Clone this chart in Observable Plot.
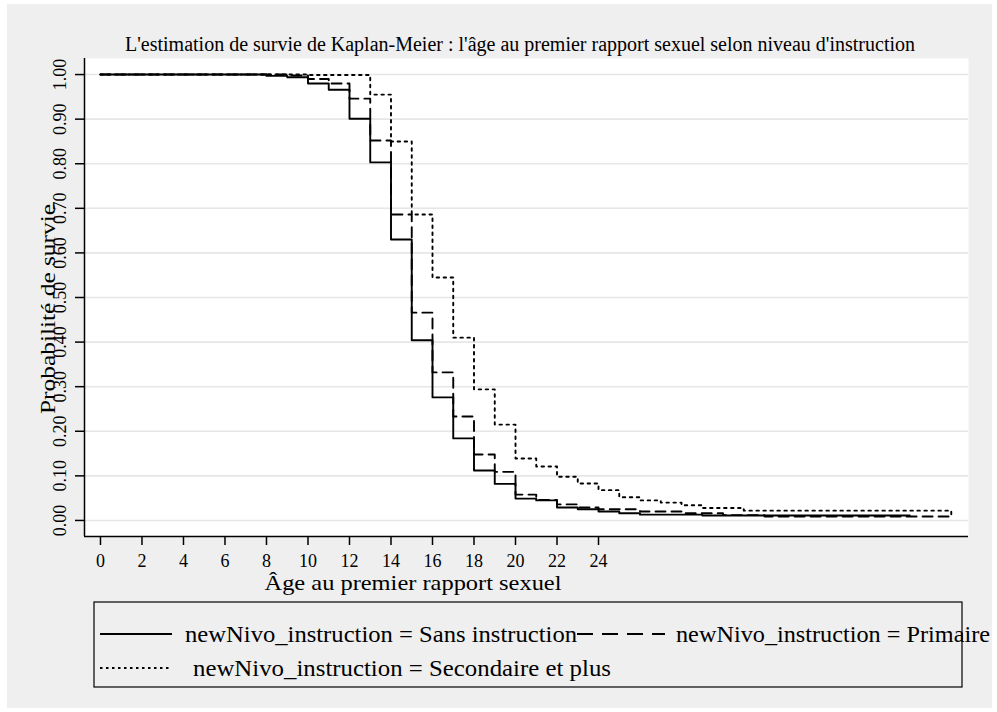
<!DOCTYPE html>
<html>
<head>
<meta charset="utf-8">
<script src="https://cdn.jsdelivr.net/npm/d3@7"></script>
<script src="https://cdn.jsdelivr.net/npm/@observablehq/plot@0.6"></script>
<style>
  body { margin: 0; background: #ffffff; }
  #root { position: relative; width: 997px; height: 712px; background: #ffffff; overflow: hidden; }
  #bg { position: absolute; left: 7px; top: 4px; width: 985px; height: 704px; background: #efefef; }
  #chart { position: absolute; left: 0; top: 0; }
  #overlay { position: absolute; left: 0; top: 0; }
  text { font-family: "Liberation Serif", "Times New Roman", serif; }
</style>
</head>
<body>
<div id="root">
  <div id="bg"></div>
  <div id="chart"></div>
  <svg id="overlay" width="997" height="712"></svg>
</div>
<script>
// ---- Data ----
const titleText = "L'estimation de survie de Kaplan-Meier : l'âge au premier rapport sexuel selon niveau d'instruction";
const xLabel = "Âge au premier rapport sexuel";
const yLabel = "Probabilité de survie";
const groupNames = [
  "newNivo_instruction = Sans instruction",
  "newNivo_instruction = Primaire",
  "newNivo_instruction = Secondaire et plus"
];

const sansAges   = [0, 8, 9, 10, 11, 12, 13, 14, 15, 16, 17, 18, 19, 20, 21, 22, 23, 24, 25, 26, 29, 39];
const sansSurv   = [1.000, 0.997, 0.994, 0.980, 0.966, 0.901, 0.803, 0.630, 0.404, 0.276, 0.184, 0.112, 0.082, 0.049, 0.045, 0.029, 0.025, 0.020, 0.016, 0.013, 0.011, 0.011];

const primAges   = [0, 9, 10, 11, 12, 13, 14, 15, 16, 17, 18, 19, 20, 21, 22, 23, 24, 26, 28, 30, 32, 41, 41];
const primSurv   = [1.000, 0.998, 0.990, 0.980, 0.946, 0.852, 0.686, 0.466, 0.332, 0.233, 0.148, 0.109, 0.058, 0.046, 0.036, 0.029, 0.025, 0.020, 0.016, 0.012, 0.009, 0.007, 0.005];

const secAges    = [0, 10, 13, 14, 15, 16, 17, 18, 19, 20, 21, 22, 23, 24, 25, 26, 27, 28, 29, 31, 41, 41];
const secSurv    = [1.000, 0.999, 0.955, 0.850, 0.686, 0.545, 0.410, 0.294, 0.215, 0.139, 0.121, 0.098, 0.083, 0.068, 0.052, 0.045, 0.040, 0.034, 0.028, 0.022, 0.022, 0.004];

const xTicks = [0, 2, 4, 6, 8, 10, 12, 14, 16, 18, 20, 22, 24];
const yTicks = [0, 0.1, 0.2, 0.3, 0.4, 0.5, 0.6, 0.7, 0.8, 0.9, 1.0];
const xDomain = [-0.77, 41.83];
const yDomain = [-0.036, 1.036];

// ---- Build table ----
function rows(ages, surv, g) { return ages.map((a, i) => ({age: a, surv: surv[i], group: g})); }
const sans = rows(sansAges, sansSurv, groupNames[0]);
const prim = rows(primAges, primSurv, groupNames[1]);
const sec  = rows(secAges, secSurv, groupNames[2]);

const styles = {
  solid:  {stroke: "#000", strokeWidth: 1.9},
  dashed: {stroke: "#000", strokeWidth: 1.9, strokeDasharray: "10,6"},
  dotted: {stroke: "#000", strokeWidth: 1.9, strokeDasharray: "2.5,4.5"}
};

const chart = Plot.plot({
  width: 997,
  height: 600,
  marginLeft: 84,
  marginRight: 29,
  marginTop: 58,
  marginBottom: 64,
  style: {background: "transparent", fontFamily: "'Liberation Serif', 'Times New Roman', serif", fontSize: "18px", color: "#000", overflow: "visible"},
  x: {domain: xDomain},
  y: {domain: yDomain},
  marks: [
    Plot.frame({fill: "#ffffff", stroke: null}),
    Plot.gridY(yTicks, {stroke: "#e6e6e6", strokeOpacity: 1, strokeWidth: 1.6}),
    Plot.line(sec,  {x: "age", y: "surv", curve: "step-after", ...styles.dotted}),
    Plot.line(prim, {x: "age", y: "surv", curve: "step-after", ...styles.dashed}),
    Plot.line(sans, {x: "age", y: "surv", curve: "step-after", ...styles.solid}),
    Plot.ruleX([xDomain[0]], {stroke: "#000", strokeWidth: 1.5}),
    Plot.ruleY([yDomain[0]], {stroke: "#000", strokeWidth: 1.5}),
    Plot.axisY(yTicks, {tickFormat: d3.format(".2f"), tickSize: 9, tickPadding: 10, tickRotate: -90, label: null, fontSize: 18, strokeWidth: 1.5}),
    Plot.axisX(xTicks, {tickSize: 9, tickPadding: 9, label: null, fontSize: 18, strokeWidth: 1.5})
  ]
});
document.getElementById("chart").appendChild(chart);

// ---- Title, axis labels, legend ----
const ov = d3.select("#overlay");
ov.append("text").attr("x", 520).attr("y", 51).attr("text-anchor", "middle")
  .attr("font-size", 20).text(titleText);
ov.append("text").attr("x", 413).attr("y", 590).attr("text-anchor", "middle")
  .attr("font-size", 21).attr("textLength", 297).attr("lengthAdjust", "spacingAndGlyphs").text(xLabel);
ov.append("text").attr("transform", "translate(55,309) rotate(-90)").attr("text-anchor", "middle")
  .attr("font-size", 21).attr("textLength", 210).attr("lengthAdjust", "spacingAndGlyphs").text(yLabel);

ov.append("rect").attr("x", 94).attr("y", 602).attr("width", 868).attr("height", 85)
  .attr("fill", "none").attr("stroke", "#000").attr("stroke-width", 1.2);

const legendItems = [
  {name: groupNames[0], lx: 100, lw: 72, tx: 185, y: 634, w: 392, dash: null},
  {name: groupNames[1], lx: 577, lw: 88, tx: 676, y: 634, w: 314, dash: "16,9"},
  {name: groupNames[2], lx: 100, lw: 72, tx: 193, y: 668, w: 418, dash: "2.5,3.5"}
];
legendItems.forEach(it => {
  ov.append("line").attr("x1", it.lx).attr("x2", it.lx + it.lw).attr("y1", it.y).attr("y2", it.y)
    .attr("stroke", "#000").attr("stroke-width", 2).attr("stroke-dasharray", it.dash);
  ov.append("text").attr("x", it.tx).attr("y", it.y + 8).attr("font-size", 23)
    .attr("textLength", it.w).attr("lengthAdjust", "spacingAndGlyphs").text(it.name);
});
</script>
</body>
</html>
